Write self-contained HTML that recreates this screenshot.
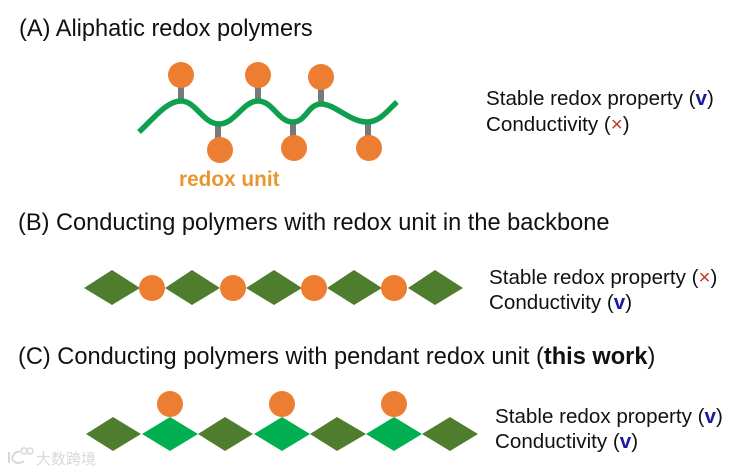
<!DOCTYPE html>
<html><head><meta charset="utf-8"><style>
html,body{margin:0;padding:0;background:#fff}
svg{display:block}
text{font-family:"Liberation Sans",Arial,sans-serif;fill:#111}
.h{font-size:23.6px}.s{font-size:20.6px}
.v{fill:#1a1a9a;font-weight:bold}.x{fill:#c0392b}
</style></head><body>
<svg width="733" height="472" viewBox="0 0 733 472" xmlns="http://www.w3.org/2000/svg">
<rect width="733" height="472" fill="#fff"/>
<g stroke="#77797c" stroke-width="6">
<path d="M181 85V102M258 85V102M321 88V104M218 124V140M293 122V138M368 122V138"/>
</g>
<path d="M139 132C155 117 167 101 181 101C196 101 203 124 219 124C235 124 243 101 258 101C273 101 278 122 293 122C306 122 308 104 321 104C335 104 350 122 367 122C380 122 388 110 397 102" fill="none" stroke="#0fa04e" stroke-width="5.5"/>
<g fill="#ed7d31">
<circle cx="181" cy="75" r="13"/><circle cx="258" cy="75" r="13"/><circle cx="321" cy="77" r="13"/>
<circle cx="220" cy="150" r="13"/><circle cx="294" cy="148" r="13"/><circle cx="369" cy="148" r="13"/>
</g>
<g fill="#4f7d2e">
<polygon points="84,288 112,270 140,288 112,305"/>
<polygon points="165,288 192,270 220,288 192,305"/>
<polygon points="246,288 274,270 302,288 274,305"/>
<polygon points="327,288 354,270 382,288 354,305"/>
<polygon points="408,288 435,270 463,288 435,305"/>
<polygon points="86,434 113,417 141,434 113,451"/>
<polygon points="198,434 225,417 253,434 225,451"/>
<polygon points="310,434 337,417 366,434 337,451"/>
<polygon points="422,434 450,417 478,434 450,451"/>
</g>
<g fill="#00b050">
<polygon points="142,434 170,417 198,434 170,451"/>
<polygon points="254,434 282,417 310,434 282,451"/>
<polygon points="366,434 394,417 422,434 394,451"/>
</g>
<g fill="#ed7d31">
<circle cx="152" cy="288" r="13"/><circle cx="233" cy="288" r="13"/><circle cx="314" cy="288" r="13"/><circle cx="394" cy="288" r="13"/>
<circle cx="170" cy="404" r="13"/><circle cx="282" cy="404" r="13"/><circle cx="394" cy="404" r="13"/>
</g>
<text class="h" x="19" y="36">(A) Aliphatic redox polymers</text>
<text class="h" x="18" y="230">(B) Conducting polymers with redox unit in the backbone</text>
<text class="h" x="18" y="364">(C) Conducting polymers with pendant redox unit (<tspan font-weight="bold">this work</tspan>)</text>
<text x="179" y="186" font-size="20.8" font-weight="bold" style="fill:#e8962e">redox unit</text>
<text class="s" x="486" y="105">Stable redox property (<tspan class="v">v</tspan>)</text>
<text class="s" x="486" y="131">Conductivity (<tspan class="x">×</tspan>)</text>
<text class="s" x="489" y="284">Stable redox property (<tspan class="x">×</tspan>)</text>
<text class="s" x="489" y="309">Conductivity (<tspan class="v">v</tspan>)</text>
<text class="s" x="495" y="423">Stable redox property (<tspan class="v">v</tspan>)</text>
<text class="s" x="495" y="448">Conductivity (<tspan class="v">v</tspan>)</text>
<g opacity=".75">
<text x="36" y="464" font-size="15" style="fill:#ccc;font-family:'Noto Sans CJK SC',sans-serif">大数跨境</text>
<path d="M9 452V463M12 458C14 452 18 451 20 452M12 458C14 464 20 464 24 461" fill="none" stroke="#ccc" stroke-width="2"/>
<circle cx="24" cy="451" r="3" fill="none" stroke="#ccc" stroke-width="1.5"/>
<circle cx="30" cy="451" r="3" fill="none" stroke="#ccc" stroke-width="1.5"/>
</g>
</svg>
</body></html>
